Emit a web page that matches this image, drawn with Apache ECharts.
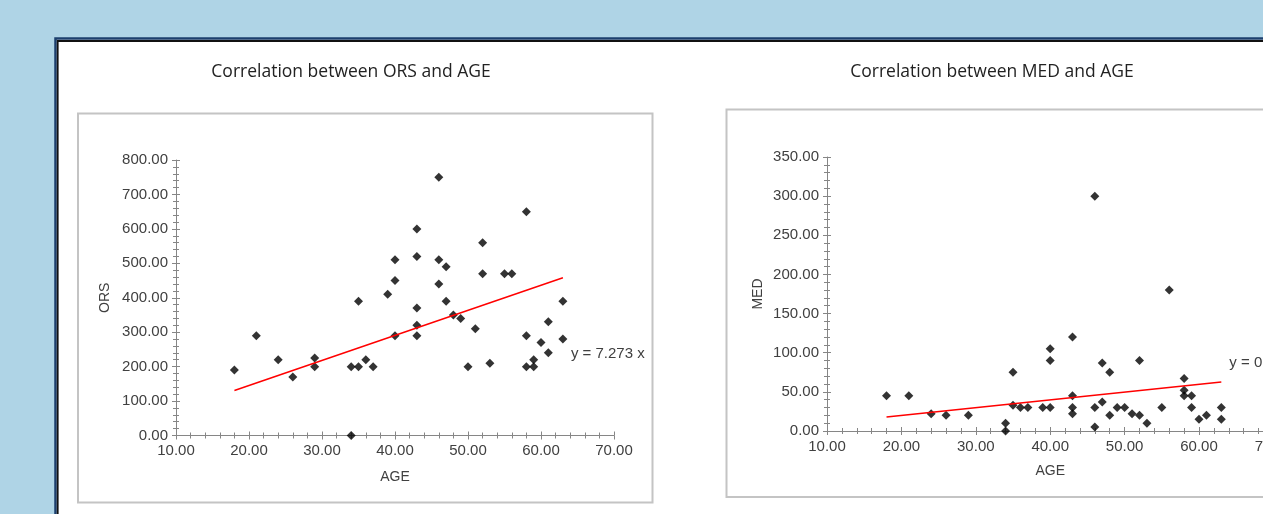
<!DOCTYPE html>
<html>
<head>
    <meta charset="utf-8">
    <title>Correlation charts</title>
    <script src="https://cdn.jsdelivr.net/npm/echarts@6/dist/echarts.min.js"></script>
    <style>
        html, body { margin: 0; padding: 0; background: #afd4e6; overflow: hidden; }
        /* wider than the window: the right chart runs off the edge like the original */
        #main { width: 1340px; height: 514px; }
    </style>
</head>
<body>
    <div id="main"></div>
    <script type="text/javascript">
// AGE / ORS pairs (left chart)
var orsAge = [18, 21, 24, 26, 29, 29, 34, 34, 35, 35, 36, 37, 39, 40, 40, 40,
    43, 43, 43, 43, 43, 46, 46, 46, 47, 47, 48, 49, 50, 51, 52, 52, 53, 55, 56,
    58, 58, 58, 59, 59, 60, 61, 61, 63, 63];
var orsValue = [190, 290, 220, 170, 225, 200, 0, 200, 390, 200, 220, 200, 410, 450, 510, 290,
    600, 520, 370, 320, 290, 750, 510, 440, 490, 390, 350, 340, 200, 310, 560, 470, 210, 470, 470,
    650, 290, 200, 220, 200, 270, 330, 240, 390, 280];

// AGE / MED pairs (right chart)
var medAge = [18, 21, 24, 26, 29, 34, 34, 35, 35, 36, 37, 39, 40, 40, 40,
    43, 43, 43, 43, 46, 46, 46, 47, 47, 48, 48, 49, 50, 51, 52, 52, 53, 55, 56,
    58, 58, 58, 59, 59, 60, 61, 63, 63];
var medValue = [45, 45, 22, 20, 20, 10, 0, 75, 33, 30, 30, 30, 30, 105, 90,
    120, 45, 30, 22, 300, 30, 5, 87, 37, 75, 20, 30, 30, 22, 90, 20, 10, 30, 180,
    67, 52, 45, 45, 30, 15, 20, 30, 15];

// trend lines through origin
var orsSlope = 7.273;
var medSlope = 0.994;
var trendAge = [18, 63];

var ageTicks = [10, 70, 10];
var orsTicks = [0, 800, 100];
var medTicks = [0, 350, 50];

function pairs(xs, ys) {
    var res = [];
    for (var i = 0; i < xs.length; i++) res.push([xs[i], ys[i]]);
    return res;
}
function trend(slope) {
    return [[trendAge[0], slope * trendAge[0]], [trendAge[1], slope * trendAge[1]]];
}

var axisGrey = '#868686';
var labelStyle = {color: '#404040', fontSize: 15, fontFamily: 'Liberation Sans',
    formatter: function (v) { return v.toFixed(2); }};

function valAxis(idx, t, inside, pos, extra) {
    var ax = {
        type: 'value', gridIndex: idx, min: t[0], max: t[1], interval: t[2], position: pos,
        splitLine: {show: false},
        axisLine: {show: !inside, onZero: false, lineStyle: {color: axisGrey, width: 1}},
        axisTick: {show: true, inside: inside, length: 4, lineStyle: {color: axisGrey}},
        minorTick: {show: true, splitNumber: 5, length: 3, lineStyle: {color: axisGrey}},
        axisLabel: inside ? {show: false} : labelStyle
    };
    for (var k in extra) ax[k] = extra[k];
    return ax;
}

var nameStyle = {color: '#404040', fontSize: 14, fontFamily: 'Liberation Sans'};

// equation text sitting next to the end of the trend line
function trendMark(slope, text, offset) {
    return {
        symbol: 'circle', symbolSize: 0, silent: true,
        data: [{coord: [trendAge[1], slope * trendAge[1]]}],
        label: {show: true, formatter: text, position: 'right', distance: 5, offset: offset,
                color: '#404040', fontSize: 15, fontFamily: 'Liberation Sans'}
    };
}

var chart = echarts.init(document.getElementById('main'));
chart.setOption({
    backgroundColor: '#afd4e6',
    animation: false,
    graphic: [
        {type: 'rect', z: -10, shape: {x: 55.5, y: 38.5, width: 1300, height: 520},
         style: {fill: '#fff', stroke: '#1c3f6e', lineWidth: 2.5}},
        {type: 'rect', z: -9, shape: {x: 57.7, y: 41, width: 1300, height: 520},
         style: {fill: 'none', stroke: '#111', lineWidth: 1.8}},
        {type: 'rect', z: -8, shape: {x: 78, y: 113.5, width: 574.5, height: 389},
         style: {fill: 'none', stroke: '#c4c4c4', lineWidth: 2}},
        {type: 'rect', z: -8, shape: {x: 726.5, y: 109.5, width: 600, height: 387.5},
         style: {fill: 'none', stroke: '#c4c4c4', lineWidth: 2}}
    ],
    title: [
        {text: 'Correlation between ORS and AGE', left: 346, top: 58, textAlign: 'center',
         textStyle: {fontSize: 17.5, fontWeight: 'normal', color: '#222', fontFamily: 'Open Sans'}},
        {text: 'Correlation between MED and AGE', left: 987, top: 58, textAlign: 'center',
         textStyle: {fontSize: 17.5, fontWeight: 'normal', color: '#222', fontFamily: 'Open Sans'}}
    ],
    grid: [
        {left: 176, top: 160, width: 438, height: 275.5},
        {left: 827, top: 157, width: 446.4, height: 274}
    ],
    xAxis: [
        valAxis(0, ageTicks, false, 'bottom', {name: 'AGE', nameLocation: 'middle', nameGap: 35, nameTextStyle: nameStyle}),
        valAxis(1, ageTicks, false, 'bottom', {name: 'AGE', nameLocation: 'middle', nameGap: 33, nameTextStyle: nameStyle}),
        valAxis(0, ageTicks, true, 'bottom', {}),
        valAxis(1, ageTicks, true, 'bottom', {})
    ],
    yAxis: [
        valAxis(0, orsTicks, false, 'left', {name: 'ORS', nameLocation: 'middle', nameGap: 64, nameTextStyle: nameStyle}),
        valAxis(1, medTicks, false, 'left', {name: 'MED', nameLocation: 'middle', nameGap: 62, nameTextStyle: nameStyle}),
        valAxis(0, orsTicks, true, 'left', {}),
        valAxis(1, medTicks, true, 'left', {})
    ],
    series: [
        {type: 'line', xAxisIndex: 0, yAxisIndex: 0, data: trend(orsSlope),
         symbol: 'none', lineStyle: {color: '#ff0000', width: 1.5},
         markPoint: trendMark(orsSlope, 'y = 7.273 x', [3, 76])},
        {type: 'scatter', xAxisIndex: 0, yAxisIndex: 0, data: pairs(orsAge, orsValue),
         symbol: 'diamond', symbolSize: 9, itemStyle: {color: '#000'}},
        {type: 'line', xAxisIndex: 1, yAxisIndex: 1, data: trend(medSlope),
         symbol: 'none', lineStyle: {color: '#ff0000', width: 1.5},
         markPoint: trendMark(medSlope, 'y = 0.994 x', [3, -19])},
        {type: 'scatter', xAxisIndex: 1, yAxisIndex: 1, data: pairs(medAge, medValue),
         symbol: 'diamond', symbolSize: 9, itemStyle: {color: '#000'}}
    ]
});
    </script>
</body>
</html>
